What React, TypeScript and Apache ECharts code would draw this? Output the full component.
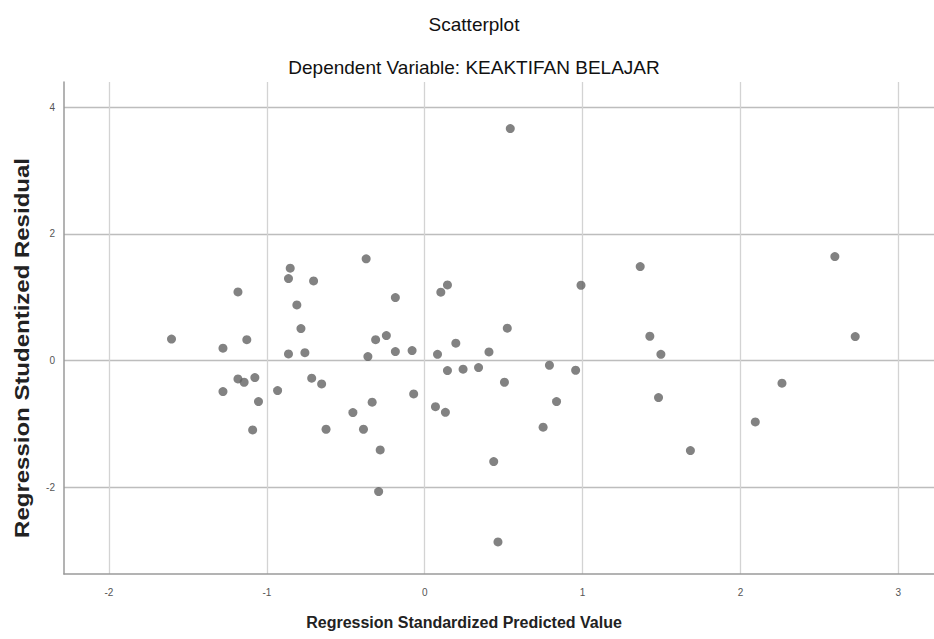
import React, { useEffect, useRef } from "react";
import * as echarts from "echarts";

const titleText = "Scatterplot";
const subtitleText = "Dependent Variable: KEAKTIFAN BELAJAR";
const xAxisTitle = "Regression Standardized Predicted Value";
const yAxisTitle = "Regression Studentized Residual";

const xValues = [
  -1.604, -1.278, -1.278, -1.183, -1.183, -1.144, -1.127, -1.076, -1.09, -1.053,
  -0.932, -0.863, -0.852, -0.863, -0.81, -0.784, -0.759, -0.716, -0.704, -0.653,
  -0.625, -0.455, -0.388, -0.371, -0.36, -0.333, -0.311, -0.282, -0.292, -0.243,
  -0.186, -0.186, -0.08, -0.07, 0.068, 0.081, 0.102, 0.144, 0.131, 0.144,
  0.197, 0.243, 0.341, 0.407, 0.437, 0.464, 0.505, 0.523, 0.542, 0.75,
  0.79, 0.835, 0.956, 0.99, 1.365, 1.426, 1.481, 1.496, 1.683, 2.094,
  2.263, 2.598, 2.727,
];
const yValues = [
  0.34, 0.196, -0.489, 1.085, -0.289, -0.342, 0.33, -0.268, -1.095, -0.647,
  -0.474, 1.295, 1.46, 0.106, 0.88, 0.506, 0.126, -0.278, 1.259, -0.368,
  -1.084, -0.821, -1.084, 1.607, 0.063, -0.657, 0.33, -1.411, -2.069, 0.395,
  0.995, 0.142, 0.158, -0.526, -0.727, 0.1, 1.08, 1.196, -0.816, -0.158,
  0.275, -0.136, -0.11, 0.137, -1.595, -2.864, -0.342, 0.512, 3.665, -1.052,
  -0.073, -0.647, -0.152, 1.19, 1.485, 0.385, -0.584, 0.1, -1.421, -0.968,
  -0.357, 1.643, 0.379,
];

const xMin = -2.285;
const xMax = 3.226;
const yMin = -3.37;
const yMax = 4.4;

export default function App() {
  const ref = useRef<HTMLDivElement>(null);
  useEffect(() => {
    if (!ref.current) return;
    const chart = echarts.init(ref.current, null, { renderer: "svg" });
    const data = xValues.map((x, i) => [x, yValues[i]]);
    const font = "'Liberation Sans', Arial, sans-serif";
    chart.setOption({
      animation: false,
      backgroundColor: "#ffffff",
      grid: { left: 64, top: 82, right: 0, bottom: 65 },
      xAxis: {
        type: "value",
        min: xMin,
        max: xMax,
        axisLine: { show: true, onZero: false, lineStyle: { color: "#9a9a9a", width: 1.5 } },
        axisTick: { show: false },
        axisLabel: {
          showMinLabel: false,
          showMaxLabel: false,
          color: "#555",
          fontSize: 10,
          margin: 13,
          fontFamily: font,
        },
        splitLine: {
          show: true,
          showMinLine: false,
          showMaxLine: false,
          lineStyle: { color: "#d3d3d3", width: 1.3 },
        },
      },
      yAxis: {
        type: "value",
        min: yMin,
        max: yMax,
        axisLine: { show: true, onZero: false, lineStyle: { color: "#9a9a9a", width: 1.5 } },
        axisTick: { show: false },
        axisLabel: {
          showMinLabel: false,
          showMaxLabel: false,
          color: "#555",
          fontSize: 10,
          margin: 9,
          fontFamily: font,
        },
        splitLine: {
          show: true,
          showMinLine: false,
          showMaxLine: false,
          lineStyle: { color: "#bdbdbd", width: 1.3 },
        },
      },
      graphic: [
        {
          type: "text",
          x: 474,
          y: 24,
          style: {
            text: titleText,
            fill: "#111",
            font: `19px ${font}`,
            align: "center",
            verticalAlign: "middle",
          },
        },
        {
          type: "text",
          x: 474,
          y: 67,
          style: {
            text: subtitleText,
            fill: "#111",
            font: `19px ${font}`,
            align: "center",
            verticalAlign: "middle",
          },
        },
        {
          type: "text",
          x: 464,
          y: 622,
          style: {
            text: xAxisTitle,
            fill: "#222",
            font: `bold 16px ${font}`,
            align: "center",
            verticalAlign: "middle",
          },
        },
        {
          type: "text",
          x: 22,
          y: 348,
          rotation: Math.PI / 2,
          scaleX: 1.2,
          style: {
            text: yAxisTitle,
            fill: "#222",
            font: `bold 20px ${font}`,
            align: "center",
            verticalAlign: "middle",
          },
        },
      ],
      series: [
        {
          type: "scatter",
          data,
          symbol: "circle",
          symbolSize: 9,
          itemStyle: { color: "#636363" },
        },
      ],
    });
    return () => chart.dispose();
  }, []);
  return <div ref={ref} style={{ width: 934, height: 639, position: "absolute", left: 0, top: 0 }} />;
}
